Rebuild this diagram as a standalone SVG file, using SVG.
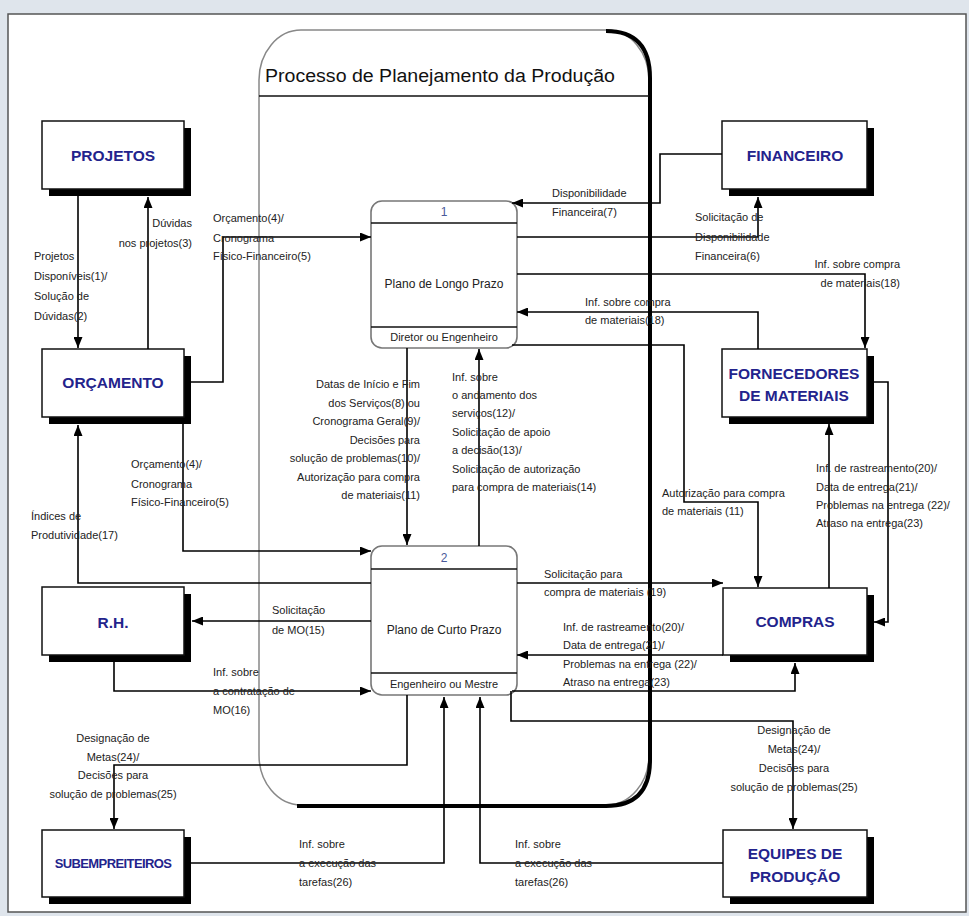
<svg xmlns="http://www.w3.org/2000/svg" width="969" height="916" viewBox="0 0 969 916">
<defs>
<marker id="ah" markerUnits="userSpaceOnUse" markerWidth="11" markerHeight="9" refX="11" refY="4.5" orient="auto">
<path d="M0,0 L11,4.5 L0,9 z" fill="#000"/>
</marker>
<style>
.ext .s{fill:#000}
.ext .b{fill:#fff;stroke:#111;stroke-width:1.5}
.bt{font-family:"Liberation Sans",Arial,sans-serif;font-weight:bold;font-size:15.5px;fill:#23238c;text-anchor:middle}
.bts{font-family:"Liberation Sans",Arial,sans-serif;font-weight:bold;font-size:13px;fill:#23238c;text-anchor:middle;letter-spacing:-0.6px}
.lbl{font-family:"Liberation Sans",Arial,sans-serif;font-size:11px;fill:#222}
.e{text-anchor:end}
.m{text-anchor:middle}
.proc .r{fill:#fff;stroke:#777;stroke-width:1.6}
.proc line{stroke:#111;stroke-width:1.3}
.pt{font-family:"Liberation Sans",Arial,sans-serif;font-size:12px;fill:#222;text-anchor:middle}
.pn{font-family:"Liberation Sans",Arial,sans-serif;font-size:12px;fill:#4a5a9a;text-anchor:middle}
.pf{font-family:"Liberation Sans",Arial,sans-serif;font-size:11px;fill:#222;text-anchor:middle}
.conn path{fill:none;stroke:#000;stroke-width:1.6;marker-end:url(#ah)}
</style>
</defs>
<rect x="0" y="0" width="969" height="916" fill="#dfe5ec"/>
<rect x="8" y="14" width="958" height="898" fill="#fff" stroke="#555" stroke-width="1.5"/>

<g id="container">
<rect x="259" y="30" width="390" height="775" rx="42" ry="50" fill="#fff" stroke="#888" stroke-width="1.5"/>
<path d="M606,31 Q650,31 650,78 L650,760 Q650,806 606,806 L297,806" fill="none" stroke="#000" stroke-width="4"/>
<line x1="259" y1="96" x2="649" y2="96" stroke="#111" stroke-width="1.5"/>
<text x="440" y="82" font-family="'Liberation Sans',Arial,sans-serif" font-size="18" fill="#111" text-anchor="middle" textLength="350" lengthAdjust="spacingAndGlyphs">Processo de Planejamento da Produção</text>
</g>

<g id="projetos" class="ext">
<rect class="s" x="49" y="128" width="142" height="68"/>
<rect class="b" x="42" y="121" width="142" height="68"/>
<text class="bt" x="113" y="161">PROJETOS</text>
</g>
<g id="orcamento" class="ext">
<rect class="s" x="49" y="356" width="142" height="68"/>
<rect class="b" x="42" y="349" width="142" height="68"/>
<text class="bt" x="113" y="388">ORÇAMENTO</text>
</g>
<g id="rh" class="ext">
<rect class="s" x="49" y="594" width="142" height="68"/>
<rect class="b" x="42" y="587" width="142" height="68"/>
<text class="bt" x="113" y="628">R.H.</text>
</g>
<g id="subempreiteiros" class="ext">
<rect class="s" x="49" y="837" width="142" height="67"/>
<rect class="b" x="42" y="830" width="142" height="67"/>
<text class="bts" x="113" y="868">SUBEMPREITEIROS</text>
</g>
<g id="financeiro" class="ext">
<rect class="s" x="729" y="128" width="145" height="68"/>
<rect class="b" x="722" y="121" width="145" height="68"/>
<text class="bt" x="795" y="161">FINANCEIRO</text>
</g>
<g id="fornecedores" class="ext">
<rect class="s" x="729" y="356" width="145" height="68"/>
<rect class="b" x="722" y="349" width="145" height="68"/>
<text class="bt" x="794" y="379">FORNECEDORES</text>
<text class="bt" x="794" y="401">DE MATERIAIS</text>
</g>
<g id="compras" class="ext">
<rect class="s" x="730" y="595" width="144" height="67"/>
<rect class="b" x="723" y="588" width="144" height="67"/>
<text class="bt" x="795" y="627">COMPRAS</text>
</g>
<g id="equipes" class="ext">
<rect class="s" x="730" y="837" width="144" height="67"/>
<rect class="b" x="723" y="830" width="144" height="67"/>
<text class="bt" x="795" y="859">EQUIPES DE</text>
<text class="bt" x="795" y="882">PRODUÇÃO</text>
</g>

<g id="plano1" class="proc">
<rect class="r" x="371" y="201" width="146" height="147" rx="11"/>
<line x1="371" y1="223" x2="517" y2="223"/>
<line x1="371" y1="327" x2="517" y2="327"/>
<text class="pn" x="444" y="216">1</text>
<text class="pt" x="444" y="288">Plano de Longo Prazo</text>
<text class="pf" x="444" y="341">Diretor ou Engenheiro</text>
</g>
<g id="plano2" class="proc">
<rect class="r" x="371" y="546" width="146" height="149" rx="11"/>
<line x1="371" y1="569" x2="517" y2="569"/>
<line x1="371" y1="673" x2="517" y2="673"/>
<text class="pn" x="444" y="562">2</text>
<text class="pt" x="444" y="634">Plano de Curto Prazo</text>
<text class="pf" x="444" y="688">Engenheiro ou Mestre</text>
</g>

<g id="connectors" class="conn">
<path d="M78,196 V348"/>
<path d="M148,349 V197"/>
<path d="M191,382 H223 V237 H371"/>
<path d="M722,154 H660 V203 H512"/>
<path d="M517,237 H758 V197"/>
<path d="M517,274 H865 V348"/>
<path d="M758,349 V312 H517"/>
<path d="M512,345 H684 V502 H758 V587"/>
<path d="M407,348 V545"/>
<path d="M479,546 V349"/>
<path d="M183,424 V551 H371"/>
<path d="M371,583 H78 V425"/>
<path d="M371,621 H192"/>
<path d="M114,662 V691 H371"/>
<path d="M517,583 H723"/>
<path d="M723,655 H517"/>
<path d="M512,691 H795 V663"/>
<path d="M511,691 V721 H793 V829"/>
<path d="M829,588 V424"/>
<path d="M874,382 H888 V622 H874"/>
<path d="M407,695 V765 H114 V829"/>
<path d="M191,863 H444 V697"/>
<path d="M723,863 H480 V697"/>
</g>

<g id="labels" class="lbl">
<text class="e" x="192" y="227">Dúvidas</text>
<text class="e" x="192" y="247">nos projetos(3)</text>
<text x="34" y="260">Projetos</text>
<text x="34" y="280">Disponíveis(1)/</text>
<text x="34" y="300">Solução de</text>
<text x="34" y="320">Dúvidas(2)</text>
<text x="213" y="222">Orçamento(4)/</text>
<text x="213" y="242">Cronograma</text>
<text x="213" y="260">Físico-Financeiro(5)</text>
<text x="552" y="197">Disponibilidade</text>
<text x="552" y="216">Financeira(7)</text>
<text x="695" y="221">Solicitação de</text>
<text x="695" y="241">Disponibilidade</text>
<text x="695" y="260">Financeira(6)</text>
<text class="e" x="900" y="268">Inf. sobre compra</text>
<text class="e" x="900" y="287">de materiais(18)</text>
<text x="585" y="306">Inf. sobre compra</text>
<text x="585" y="324">de materiais(18)</text>
<text x="662" y="497">Autorização para compra</text>
<text x="662" y="515">de materiais (11)</text>
<text class="e" x="420" y="388">Datas de Início e Fim</text>
<text class="e" x="420" y="407">dos Serviços(8) ou</text>
<text class="e" x="420" y="425">Cronograma Geral(9)/</text>
<text class="e" x="420" y="444">Decisões para</text>
<text class="e" x="420" y="462">solução de problemas(10)/</text>
<text class="e" x="420" y="481">Autorização para compra</text>
<text class="e" x="420" y="499">de materiais(11)</text>
<text x="452" y="381">Inf. sobre</text>
<text x="452" y="399">o andamento dos</text>
<text x="452" y="417">serviços(12)/</text>
<text x="452" y="436">Solicitação de apoio</text>
<text x="452" y="454">a decisão(13)/</text>
<text x="452" y="473">Solicitação de autorização</text>
<text x="452" y="491">para compra de materiais(14)</text>
<text x="131" y="468">Orçamento(4)/</text>
<text x="131" y="488">Cronograma</text>
<text x="131" y="506">Físico-Financeiro(5)</text>
<text x="31" y="520">Índices de</text>
<text x="31" y="539">Produtividade(17)</text>
<text x="816" y="472">Inf. de rastreamento(20)/</text>
<text x="816" y="491">Data de entrega(21)/</text>
<text x="816" y="509">Problemas na entrega (22)/</text>
<text x="816" y="527">Atraso na entrega(23)</text>
<text x="544" y="578">Solicitação para</text>
<text x="544" y="596">compra de materiais (19)</text>
<text x="272" y="614">Solicitação</text>
<text x="272" y="634">de MO(15)</text>
<text x="563" y="631">Inf. de rastreamento(20)/</text>
<text x="563" y="649">Data de entrega(21)/</text>
<text x="563" y="668">Problemas na entrega (22)/</text>
<text x="563" y="686">Atraso na entrega(23)</text>
<text x="213" y="676">Inf. sobre</text>
<text x="213" y="695">a contratação de</text>
<text x="213" y="714">MO(16)</text>
<text class="m" x="113" y="742">Designação de</text>
<text class="m" x="113" y="761">Metas(24)/</text>
<text class="m" x="113" y="779">Decisões para</text>
<text class="m" x="113" y="798">solução de problemas(25)</text>
<text class="m" x="794" y="734">Designação de</text>
<text class="m" x="794" y="753">Metas(24)/</text>
<text class="m" x="794" y="772">Decisões para</text>
<text class="m" x="794" y="791">solução de problemas(25)</text>
<text x="299" y="848">Inf. sobre</text>
<text x="299" y="867">a execução das</text>
<text x="299" y="886">tarefas(26)</text>
<text x="515" y="848">Inf. sobre</text>
<text x="515" y="867">a execução das</text>
<text x="515" y="886">tarefas(26)</text>
</g>
</svg>
